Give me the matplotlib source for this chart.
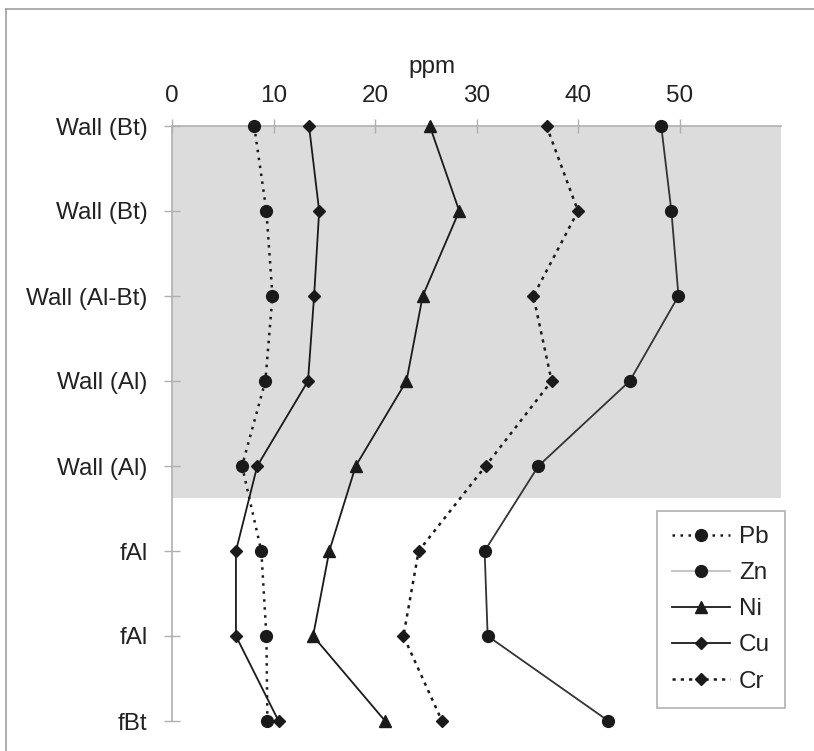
import numpy as np
import matplotlib as mpl
mpl.use('Agg')
import matplotlib.pyplot as plt
from matplotlib.lines import Line2D

plt.rcParams['font.family'] = ['Liberation Sans', 'DejaVu Sans']

# horizons, top to bottom
labels = ['Wall (Bt)', 'Wall (Bt)', 'Wall (Al-Bt)', 'Wall (Al)', 'Wall (Al)', 'fAl', 'fAl', 'fBt']

# ppm values
pb = [8.1, 9.3, 9.9, 9.2, 6.9, 8.8, 9.3, 9.4]
zn = [48.2, 49.2, 49.9, 45.1, 36.1, 30.8, 31.1, 43.0]
ni = [25.4, 28.3, 24.7, 23.1, 18.1, 15.5, 13.9, 21.0]
cu = [13.5, 14.5, 14.0, 13.4, 8.4, 6.3, 6.3, 10.5]
cr = [36.9, 40.0, 35.6, 37.4, 30.9, 24.3, 22.8, 26.6]

wall_end = 4.375  # shaded "wall" part ends between row 4 and 5

W, H = 814, 751
fs = 17.5
fig = plt.figure(figsize=(W / 100., H / 100.), dpi=100)
ax = fig.add_axes([172. / W, 1 - 721. / H, (781. - 172.) / W, (721. - 126.) / H])

rows = np.arange(len(labels))
mk = '#1a1a1a'

ax.axhspan(0, wall_end, color='#dcdcdc', lw=0, zorder=0)

ax.plot(pb, rows, ls=(0, (1, 2.2)), lw=1.8, c=mk, marker='o', ms=8.5, clip_on=False, zorder=3)
ax.plot(zn, rows, ls='-', lw=1.3, c='#333333', marker='o', mfc=mk, mec=mk, ms=8.5, clip_on=False, zorder=3)
ax.plot(ni, rows, ls='-', lw=1.3, c=mk, marker='^', ms=8, clip_on=False, zorder=3)
ax.plot(cu, rows, ls='-', lw=1.3, c=mk, marker='D', ms=6, clip_on=False, zorder=3)
ax.plot(cr, rows, ls=(0, (1.3, 2)), lw=1.8, c=mk, marker='D', ms=6, clip_on=False, zorder=3)

ax.set_xlim(0, 60)
ax.set_ylim(7, 0)
ax.set_xticks([0, 10, 20, 30, 40, 50])
ax.set_yticks(rows)
ax.set_yticklabels(labels)
ax.xaxis.tick_top()

for s in ['right', 'bottom']:
    ax.spines[s].set_visible(False)
for s in ['left', 'top']:
    ax.spines[s].set_color('#b0b0b0')
    ax.spines[s].set_linewidth(1.2)

ax.tick_params(axis='x', direction='inout', length=10, width=1, color='#b0b0b0',
               labelsize=fs, pad=9, labelcolor='#222222')
ax.tick_params(axis='y', direction='inout', length=11, width=1, color='#b0b0b0',
               labelsize=fs, pad=12, labelcolor='#222222')

fig.text(432. / W, 1 - 73. / H, 'ppm', ha='center', va='baseline', fontsize=fs, color='#222222')

# legend
handles = [
    Line2D([], [], ls=(0, (1, 2.2)), lw=1.8, c=mk, marker='o', ms=8.5),
    Line2D([], [], ls='-', lw=1.3, c='#c0c0c0', marker='o', mfc=mk, mec=mk, ms=8.5),
    Line2D([], [], ls='-', lw=1.3, c=mk, marker='^', ms=8),
    Line2D([], [], ls='-', lw=1.3, c=mk, marker='D', ms=6),
    Line2D([], [], ls=(0, (1.3, 2)), lw=1.8, c=mk, marker='D', ms=6),
]
leg = fig.legend(handles, ['Pb', 'Zn', 'Ni', 'Cu', 'Cr'], loc='upper left',
                 bbox_to_anchor=(657. / W, 1 - 511. / H), borderaxespad=0, fontsize=fs,
                 handlelength=2.4, handletextpad=0.35, labelspacing=0.58,
                 borderpad=0.62, fancybox=False, framealpha=1)
leg.get_frame().set_edgecolor('#b0b0b0')
leg.get_frame().set_linewidth(1.2)
for t in leg.get_texts():
    t.set_color('#222222')

# outer frame (top and left only)
fig.add_artist(Line2D([6. / W, 1], [1 - 9. / H, 1 - 9. / H], c='#a0a0a0', lw=1.2))
fig.add_artist(Line2D([6. / W, 6. / W], [0, 1 - 9. / H], c='#a0a0a0', lw=1.2))

plt.savefig('out.png', dpi=100)
